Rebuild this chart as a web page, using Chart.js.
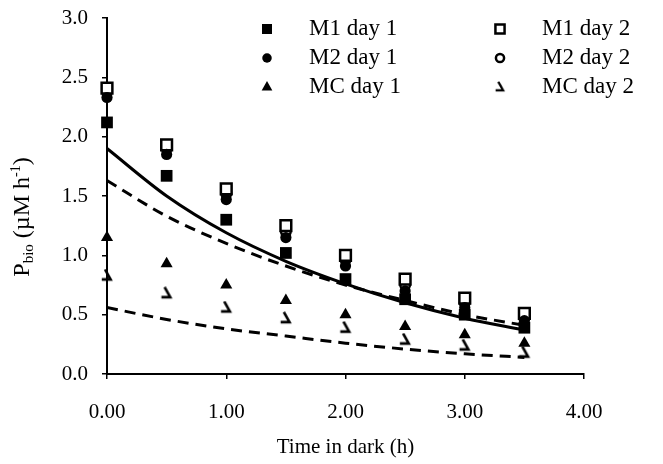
<!DOCTYPE html>
<html><head><meta charset="utf-8">
<script src="https://cdn.jsdelivr.net/npm/chart.js@4/dist/chart.umd.min.js"></script>
<style>html,body{margin:0;padding:0;background:#fff;}#wrap{width:663px;height:464px;}</style>
</head><body><div id="wrap"><canvas id="c" width="663" height="464"></canvas></div>
<script>
const times = [0, 0.5, 1.0, 1.5, 2.0, 2.5, 3.0, 3.5];
const m1Day1 = [2.12, 1.67, 1.30, 1.02, 0.80, 0.63, 0.50, 0.39];
const m2Day1 = [2.33, 1.85, 1.47, 1.15, 0.91, 0.70, 0.56, 0.45];
const mcDay1 = [1.15, 0.93, 0.75, 0.62, 0.50, 0.40, 0.33, 0.26];
const m1Day2 = [2.41, 1.93, 1.56, 1.25, 1.00, 0.80, 0.64, 0.51];
const m2Day2 = [2.38, 1.90, 1.52, 1.20, 0.96, 0.75, 0.60, 0.48];
const mcDay2 = [0.83, 0.68, 0.56, 0.47, 0.39, 0.29, 0.24, 0.18];
const fitSolid = [1.90, 1.50, 1.19, 0.95, 0.76, 0.60, 0.47, 0.37];
const fitDashUpper = [1.63, 1.33, 1.10, 0.91, 0.75, 0.62, 0.50, 0.41];
const fitDashLower = [0.56, 0.46, 0.38, 0.32, 0.26, 0.21, 0.17, 0.14];
const xTicks = [0, 1, 2, 3, 4];
const yTicks = [0, 0.5, 1.0, 1.5, 2.0, 2.5, 3.0];

const pts = arr => times.map((t, i) => ({x: t, y: arr[i]}));

// custom marker for MC day 2
function hookMarker(s) {
  const c = document.createElement('canvas');
  c.width = s; c.height = s;
  const g = c.getContext('2d');
  g.strokeStyle = '#000'; g.lineWidth = 2.6; g.lineCap = 'square'; g.lineJoin = 'miter';
  g.beginPath();
  g.moveTo(s*0.40, s*0.14);
  g.lineTo(s*0.76, s*0.78);
  g.lineTo(s*0.22, s*0.78);
  g.stroke();
  return c;
}
const hook = hookMarker(14);

const font = 'Liberation Serif, Times New Roman, serif';

const markerDs = [
  {label: 'M1 day 1', data: pts(m1Day1), pointStyle: 'rect', pointRadius: 8.3, backgroundColor: '#000', borderColor: '#000', borderWidth: 0},
  {label: 'M2 day 1', data: pts(m2Day1), pointStyle: 'circle', pointRadius: 5.6, backgroundColor: '#000', borderColor: '#000', borderWidth: 0},
  {label: 'MC day 1', data: pts(mcDay1), pointStyle: 'triangle', pointRadius: 7, backgroundColor: '#000', borderColor: '#000', borderWidth: 0},
  {label: 'M1 day 2', data: pts(m1Day2), pointStyle: 'rect', pointRadius: 7.6, backgroundColor: '#fff', borderColor: '#000', borderWidth: 2.5},
  {label: 'M2 day 2', data: pts(m2Day2), pointStyle: 'circle', pointRadius: 4.8, backgroundColor: '#fff', borderColor: '#000', borderWidth: 2.5},
  {label: 'MC day 2', data: pts(mcDay2), pointStyle: hook, pointRadius: 7, backgroundColor: '#000', borderColor: '#000', borderWidth: 0}
];
markerDs.forEach(d => { d.showLine = false; d.pointHoverRadius = d.pointRadius; d.clip = false; });

const lineDs = [
  {label: 'fit1', data: pts(fitSolid), borderDash: []},
  {label: 'fit2', data: pts(fitDashUpper), borderDash: [11, 7]},
  {label: 'fit3', data: pts(fitDashLower), borderDash: [11, 7]}
].map(d => Object.assign(d, {showLine: true, pointRadius: 0, borderColor: '#000', borderWidth: 3, cubicInterpolationMode: 'monotone', fill: false}));

const legendPlugin = {
  id: 'customLegend',
  afterDraw(chart) {
    const ctx = chart.ctx;
    const cols = [{mx: 267, tx: 309}, {mx: 500, tx: 542}];
    const rows = [29, 58, 87];
    ctx.save();
    ctx.font = '23px ' + font;
    ctx.fillStyle = '#000';
    ctx.textBaseline = 'middle';
    markerDs.forEach((d, i) => {
      const col = cols[Math.floor(i / 3)], y = rows[i % 3];
      const scale = 0.85;
      ctx.fillStyle = d.backgroundColor; ctx.strokeStyle = d.borderColor; ctx.lineWidth = d.borderWidth;
      ctx.beginPath();
      if (d.pointStyle === 'rect') {
        const s = d.pointRadius * scale * Math.SQRT1_2 * 2;
        ctx.rect(col.mx - s/2, y - s/2, s, s);
        ctx.fill(); if (d.borderWidth) ctx.stroke();
      } else if (d.pointStyle === 'circle') {
        ctx.arc(col.mx, y, d.pointRadius * scale, 0, Math.PI * 2);
        ctx.fill(); if (d.borderWidth) ctx.stroke();
      } else if (d.pointStyle === 'triangle') {
        const r = d.pointRadius * scale;
        ctx.moveTo(col.mx, y - r); ctx.lineTo(col.mx + r * 0.9, y + r * 0.6); ctx.lineTo(col.mx - r * 0.9, y + r * 0.6); ctx.closePath(); ctx.fill();
      } else {
        ctx.drawImage(hook, col.mx - 6, y - 6, 12, 12);
      }
      ctx.fillStyle = '#000';
      ctx.fillText(d.label, col.tx, y);
    });
    // y-axis title with subscript / superscript
    ctx.translate(23, 217);
    ctx.rotate(-Math.PI / 2);
    ctx.textBaseline = 'middle';
    const parts = [
      {t: 'P', f: '24px', dy: 0},
      {t: 'bio', f: '15px', dy: 6},
      {t: ' (\u00b5M h', f: '24px', dy: 0},
      {t: '-1', f: '14px', dy: -7},
      {t: ')', f: '24px', dy: 0}
    ];
    let total = 0;
    parts.forEach(p => { ctx.font = p.f + ' ' + font; p.w = ctx.measureText(p.t).width; total += p.w; });
    let x = -total / 2;
    ctx.textAlign = 'left';
    parts.forEach(p => { ctx.font = p.f + ' ' + font; ctx.fillText(p.t, x, p.dy); x += p.w; });
    ctx.restore();
  }
};

new Chart(document.getElementById('c'), {
  type: 'scatter',
  data: {datasets: [...lineDs, ...markerDs]},
  options: {
    responsive: false,
    animation: false,
    events: [],
    layout: {padding: {top: 18, right: 79, left: 0, bottom: 0}},
    plugins: {legend: {display: false}, tooltip: {enabled: false}},
    scales: {
      x: {
        type: 'linear', min: 0, max: 4,
        afterBuildTicks: s => { s.ticks = xTicks.map(v => ({value: v})); },
        afterFit: s => { s.height = 90; s.paddingLeft = 0; s.paddingRight = 0; },
        ticks: {callback: v => v.toFixed(2), color: '#000', font: {family: font, size: 21}, padding: 21, maxRotation: 0},
        grid: {display: true, drawOnChartArea: false, drawTicks: true, tickLength: 5, color: '#000', lineWidth: 1.5},
        border: {color: '#000', width: 2},
        title: {display: true, text: 'Time in dark (h)', color: '#000', font: {family: font, size: 21}, padding: {top: 6, bottom: 4}}
      },
      y: {
        type: 'linear', min: 0, max: 3,
        afterBuildTicks: s => { s.ticks = yTicks.map(v => ({value: v})); },
        afterFit: s => { s.width = 107; s.paddingTop = 0; s.paddingBottom = 0; },
        ticks: {callback: v => v.toFixed(1), color: '#000', font: {family: font, size: 21}, padding: 14},
        grid: {display: true, drawOnChartArea: false, drawTicks: true, tickLength: 5, color: '#000', lineWidth: 1.5},
        border: {color: '#000', width: 2}
      }
    }
  },
  plugins: [legendPlugin]
});
</script>
</body></html>
